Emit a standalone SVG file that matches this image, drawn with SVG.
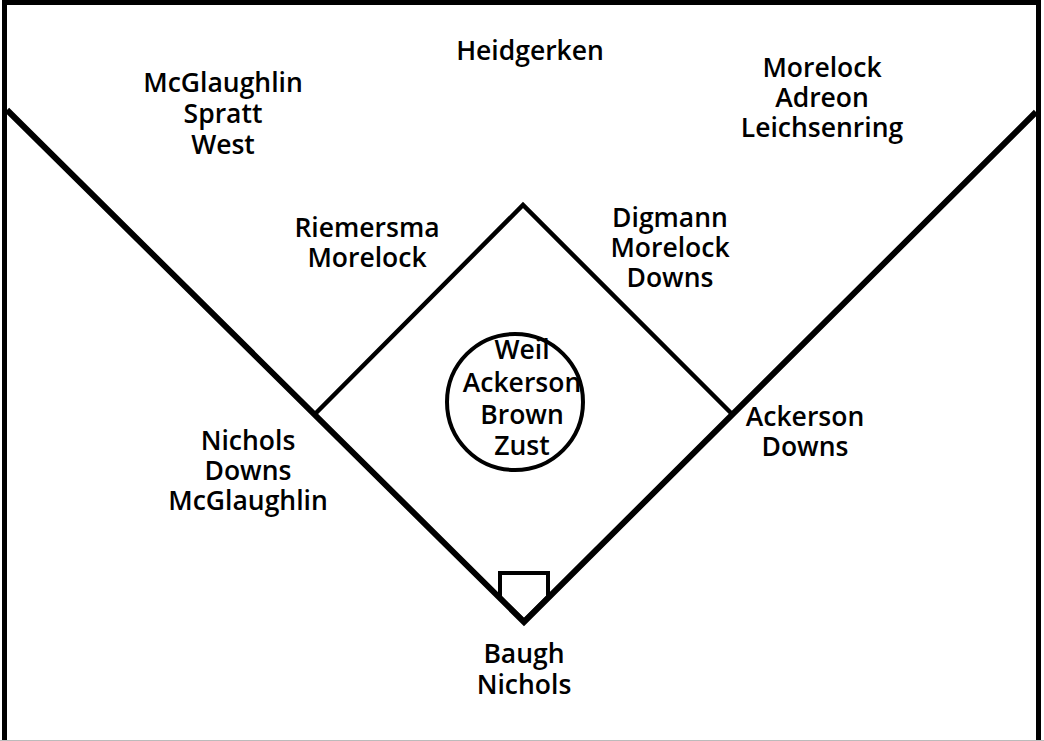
<svg xmlns="http://www.w3.org/2000/svg" width="1044" height="741" viewBox="0 0 1044 741">
<style>
.t{font-family:"Open Sans","DejaVu Sans",sans-serif;font-weight:600;font-size:26.5px;fill:#000;text-anchor:middle}
.ln{fill:none;stroke:#000;stroke-linejoin:miter}
</style>
<rect width="1044" height="741" fill="#fff"/>
<g id="frame">
<path class="ln" d="M4.5,741 V2.5 H1038.5 V741" stroke-width="5"/>
<line x1="0" y1="740.5" x2="1044" y2="740.5" stroke="#bbb" stroke-width="1"/>
</g>
<g id="connectors">
<path class="ln" d="M7,110 L524,622 L1036,112" stroke-width="6"/>
<path class="ln" d="M315,414 L523,205 L732,414" stroke-width="4.5"/>
</g>
<g id="home-plate"><polygon class="ln" points="500,573 548,573 548,597 524,621 500,597" stroke-width="4"/></g>
<g id="mound"><circle class="ln" cx="515" cy="402" r="68" stroke-width="4"/></g>
<g id="left-field"><text class="t" x="223" y="92">McGlaughlin</text><text class="t" x="223" y="123">Spratt</text><text class="t" x="223" y="154">West</text></g>
<g id="center-field"><text class="t" x="530" y="60">Heidgerken</text></g>
<g id="right-field"><text class="t" x="822" y="77">Morelock</text><text class="t" x="822" y="107">Adreon</text><text class="t" x="822" y="137">Leichsenring</text></g>
<g id="shortstop"><text class="t" x="367" y="237">Riemersma</text><text class="t" x="367" y="267">Morelock</text></g>
<g id="second-base"><text class="t" x="670" y="227">Digmann</text><text class="t" x="670" y="257">Morelock</text><text class="t" x="670" y="287">Downs</text></g>
<g id="pitcher"><text class="t" x="522" y="359">Weil</text><text class="t" x="522" y="392">Ackerson</text><text class="t" x="522" y="424">Brown</text><text class="t" x="522" y="455">Zust</text></g>
<g id="third-base"><text class="t" x="248" y="450">Nichols</text><text class="t" x="248" y="480">Downs</text><text class="t" x="248" y="510">McGlaughlin</text></g>
<g id="first-base"><text class="t" x="805" y="426">Ackerson</text><text class="t" x="805" y="456">Downs</text></g>
<g id="catcher"><text class="t" x="524" y="663">Baugh</text><text class="t" x="524" y="694">Nichols</text></g>
</svg>
